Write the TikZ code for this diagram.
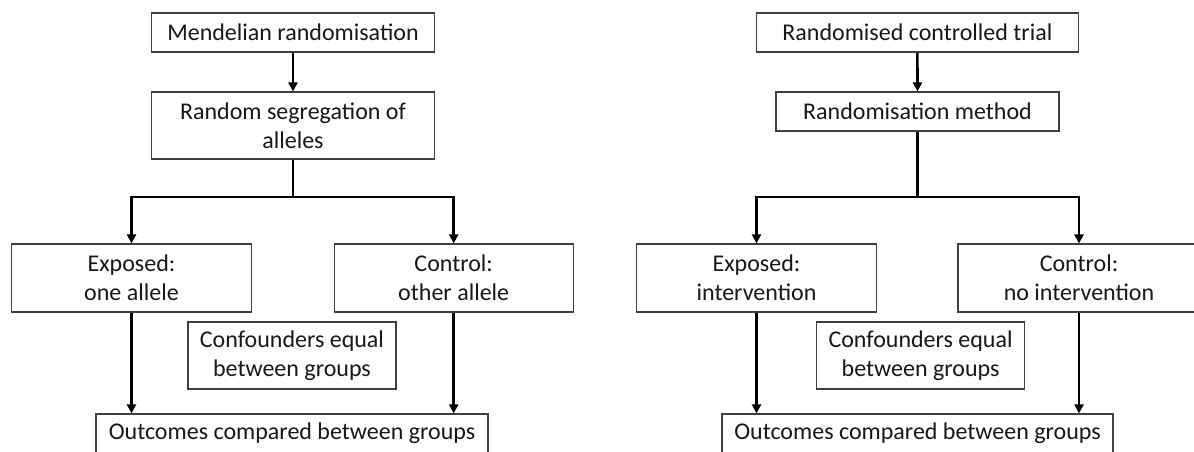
\documentclass[tikz,border=0pt]{standalone}
\usepackage{fontspec}
\setmainfont{Carlito}
\usetikzlibrary{arrows.meta}

\begin{document}
\begin{tikzpicture}[
    x=1pt, y=-1pt,
    % Estilos de cajas
    box/.style={draw=black!75, line width=1.2pt, fill=white, align=center, inner sep=0pt,
        font=\fontsize{24}{29}\selectfont, text=black!90},
    % Estilos de conectores
    branch line/.style={line width=2.6pt, black},
    flow arrow/.style={line width=2.6pt, black, -{Triangle[length=9pt, width=9pt]}}
]
\useasboundingbox (0,0) rectangle (1194,451);

% Panel izquierdo: aleatorizacion mendeliana
\node[box, minimum width=283pt, minimum height=39pt] (mr) at (293,32.5) {Mendelian randomisation};
\node[box, minimum width=283pt, minimum height=67pt] (seg) at (293,125.5) {Random segregation of\\alleles};
\node[box, minimum width=240pt, minimum height=68pt] (expL) at (131.5,278) {Exposed:\\one allele};
\node[box, minimum width=239pt, minimum height=68pt] (ctlL) at (453.7,278) {Control:\\other allele};
\node[box, minimum width=208pt, minimum height=67pt] (confL) at (292,355.5) {Confounders equal\\between groups};
\node[box, minimum width=392pt, minimum height=39pt] (outL) at (292,433.5) {Outcomes compared between groups};
\coordinate (jL) at (293,197);

\draw[flow arrow] (mr.south) -- (seg.north);
\draw[branch line] (seg.south) -- (jL);
\draw[flow arrow] (jL) -| (expL.north);
\draw[flow arrow] (jL) -| (ctlL.north);
\draw[flow arrow] (expL.south) -- (expL.south |- outL.north);
\draw[flow arrow] (ctlL.south) -- (ctlL.south |- outL.north);

% Panel derecho: ensayo controlado aleatorizado
\node[box, minimum width=322pt, minimum height=39pt] (rct) at (917.4,32.5) {Randomised controlled trial};
\node[box, minimum width=283pt, minimum height=39pt] (meth) at (917.5,111.5) {Randomisation method};
\node[box, minimum width=240pt, minimum height=68pt] (expR) at (756.5,278) {Exposed:\\intervention};
\node[box, minimum width=242pt, minimum height=68pt] (ctlR) at (1079,278) {Control:\\no intervention};
\node[box, minimum width=208pt, minimum height=67pt] (confR) at (920.6,355.5) {Confounders equal\\between groups};
\node[box, minimum width=391pt, minimum height=39pt] (outR) at (917.5,433.5) {Outcomes compared between groups};
\coordinate (jR) at (917.5,197);

\draw[flow arrow] (rct.south) -- (meth.north);
\draw[branch line] (meth.south) -- (jR);
\draw[flow arrow] (jR) -| (expR.north);
\draw[flow arrow] (jR) -| (ctlR.north);
\draw[flow arrow] (expR.south) -- (expR.south |- outR.north);
\draw[flow arrow] (ctlR.south) -- (ctlR.south |- outR.north);

\end{tikzpicture}
\end{document}
